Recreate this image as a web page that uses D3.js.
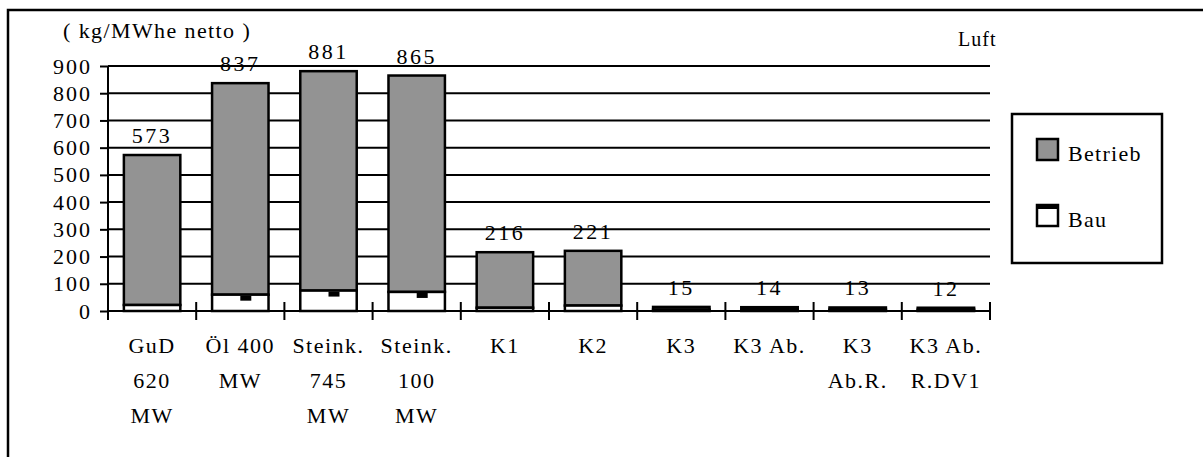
<!DOCTYPE html>
<head>
  <meta charset="utf-8">
  <script src="https://cdn.jsdelivr.net/npm/d3@7"></script>
  <style>
    body { margin: 0; background: #fff; }
    svg { display: block; }
    svg text { fill: #000; letter-spacing: 1px; font-family: "Liberation Serif", "DejaVu Serif", serif !important; }
  </style>
</head>
<body>
  <div id="chart"></div>
  <script>

  // chart data
  var categories = ["GuD 620 MW", "Öl 400 MW", "Steink. 745 MW", "Steink. 100 MW", "K1", "K2", "K3", "K3 Ab.", "K3 Ab.R.", "K3 Ab. R.DV1"]
  var categoryLines = [["GuD","620","MW"], ["Öl 400","MW"], ["Steink.","745","MW"], ["Steink.","100","MW"],
                       ["K1"], ["K2"], ["K3"], ["K3 Ab."], ["K3","Ab.R."], ["K3 Ab.","R.DV1"]]
  var bau     = [22, 60, 75, 70, 12, 20, 5, 5, 5, 5]
  var betrieb = [551, 777, 806, 795, 204, 201, 10, 9, 8, 7]
  var yTicks  = [0, 100, 200, 300, 400, 500, 600, 700, 800, 900]
  var seriesNames = ["Betrieb", "Bau"]

  var width = 1203, height = 457
    , plotLeft = 108, plotRight = 990, plotTop = 66, plotBottom = 311
    , grey = "#939393"
    , serif = "'Liberation Serif', 'DejaVu Serif', serif"

  var svg = d3.select("#chart").append("svg")
      .attr("width", width)
      .attr("height", height)
      .attr("font-family", serif)

  // outer frame (runs off the picture on right and bottom)
  svg.append("rect")
      .attr("x", 8).attr("y", 10)
      .attr("width", 1400).attr("height", 600)
      .style("fill", "none").style("stroke", "#000").style("stroke-width", 2.5)

  var y = d3.scaleLinear()
      .domain([0, 900])
      .range([plotBottom, plotTop])

  var x = d3.scaleBand()
      .domain(categories)
      .range([plotLeft, plotRight])
      .paddingInner(0.36)
      .paddingOuter(0.18)

  var step = x.step()

  // gridlines
  svg.append("g").selectAll("line")
      .data(yTicks.filter(function(d) { return d > 0 }))
    .enter().append("line")
      .attr("x1", plotLeft).attr("x2", plotRight)
      .attr("y1", function(d) { return y(d) })
      .attr("y2", function(d) { return y(d) })
      .style("stroke", "#000").style("stroke-width", 2)

  // y axis
  var yAxis = d3.axisLeft(y).tickValues(yTicks).tickSize(8).tickPadding(8)
  var gy = svg.append("g")
      .attr("transform", "translate(" + plotLeft + ",0)")
      .call(yAxis)
      .attr("font-family", serif)
  gy.select(".domain").remove()
  gy.selectAll(".tick line").style("stroke", "#000").style("stroke-width", 2)
  gy.selectAll(".tick text")
      .attr("font-family", serif)
      .style("font-size", "22px")
      .style("letter-spacing", "2px")
  svg.append("line")
      .attr("x1", plotLeft).attr("x2", plotLeft)
      .attr("y1", plotTop).attr("y2", plotBottom)
      .style("stroke", "#000").style("stroke-width", 2)

  // bars
  var bars = svg.append("g").selectAll(".bar")
      .data(categories)
    .enter().append("g")
      .attr("class", "bar")
      .attr("transform", function(d) { return "translate(" + x(d) + ",0)" })

  bars.append("rect")
      .attr("y", function(d, i) { return y(bau[i] + betrieb[i]) })
      .attr("height", function(d, i) { return y(bau[i]) - y(bau[i] + betrieb[i]) })
      .attr("width", x.bandwidth())
      .style("fill", grey).style("stroke", "#000").style("stroke-width", 2.5)

  bars.append("rect")
      .attr("y", function(d, i) { return y(bau[i]) })
      .attr("height", function(d, i) { return y(0) - y(bau[i]) })
      .attr("width", x.bandwidth())
      .style("fill", "#fff").style("stroke", "#000").style("stroke-width", 2.5)

  // small dark mark of the Bau fill, just under the grey part
  bars.each(function(d, i) {
    if (y(0) - y(bau[i]) > 10) {
      d3.select(this).append("rect")
          .attr("x", x.bandwidth() / 2)
          .attr("y", y(bau[i]) + 1)
          .attr("width", 11).attr("height", 5)
          .style("fill", "#000")
    }
  })

  // value labels
  bars.append("text")
      .attr("x", x.bandwidth() / 2)
      .attr("y", function(d, i) { return y(bau[i] + betrieb[i]) - 12 })
      .style("text-anchor", "middle")
      .style("font-size", "22px")
      .style("letter-spacing", "2.5px")
      .text(function(d, i) { return bau[i] + betrieb[i] })

  // x axis
  svg.append("line")
      .attr("x1", plotLeft).attr("x2", plotRight)
      .attr("y1", plotBottom).attr("y2", plotBottom)
      .style("stroke", "#000").style("stroke-width", 2)

  svg.append("g").selectAll("line")
      .data(d3.range(categories.length + 1))
    .enter().append("line")
      .attr("x1", function(i) { return plotLeft + i * step })
      .attr("x2", function(i) { return plotLeft + i * step })
      .attr("y1", plotBottom - 9).attr("y2", plotBottom + 9)
      .style("stroke", "#000").style("stroke-width", 2)

  var labels = svg.append("g").selectAll(".cat")
      .data(categories)
    .enter().append("text")
      .attr("class", "cat")
      .attr("x", function(d) { return x(d) + x.bandwidth() / 2 })
      .attr("y", 353)
      .style("text-anchor", "middle")
      .style("font-size", "22px")
      .style("letter-spacing", "1.5px")

  labels.selectAll("tspan")
      .data(function(d, i) { return categoryLines[i] })
    .enter().append("tspan")
      .attr("x", function() { return d3.select(this.parentNode).attr("x") })
      .attr("dy", function(d, i) { return i === 0 ? 0 : 35 })
      .text(function(d) { return d })

  // unit and title
  svg.append("text")
      .attr("x", 63).attr("y", 38)
      .style("font-size", "22px")
      .style("letter-spacing", "1.4px")
      .text("( kg/MWhe netto )")

  svg.append("text")
      .attr("x", 958).attr("y", 46)
      .style("font-size", "20px")
      .text("Luft")

  // legend
  var legend = svg.append("g")
  legend.append("rect")
      .attr("x", 1012).attr("y", 114)
      .attr("width", 150).attr("height", 149)
      .style("fill", "#fff").style("stroke", "#000").style("stroke-width", 2.5)

  var items = legend.selectAll(".item")
      .data(seriesNames)
    .enter().append("g")
      .attr("class", "item")
      .attr("transform", function(d, i) { return "translate(1037," + (139 + i * 66) + ")" })

  items.append("rect")
      .attr("width", 21).attr("height", 21)
      .style("fill", function(d, i) { return i === 0 ? grey : "#fff" })
      .style("stroke", "#000").style("stroke-width", 2.5)

  items.filter(function(d, i) { return i === 1 })
    .append("rect")
      .attr("width", 21).attr("height", 4)
      .style("fill", "#000")

  items.append("text")
      .attr("x", 31).attr("y", 22)
      .style("font-size", "22px")
      .style("letter-spacing", "1.3px")
      .text(function(d) { return d })

  </script>
</body>
